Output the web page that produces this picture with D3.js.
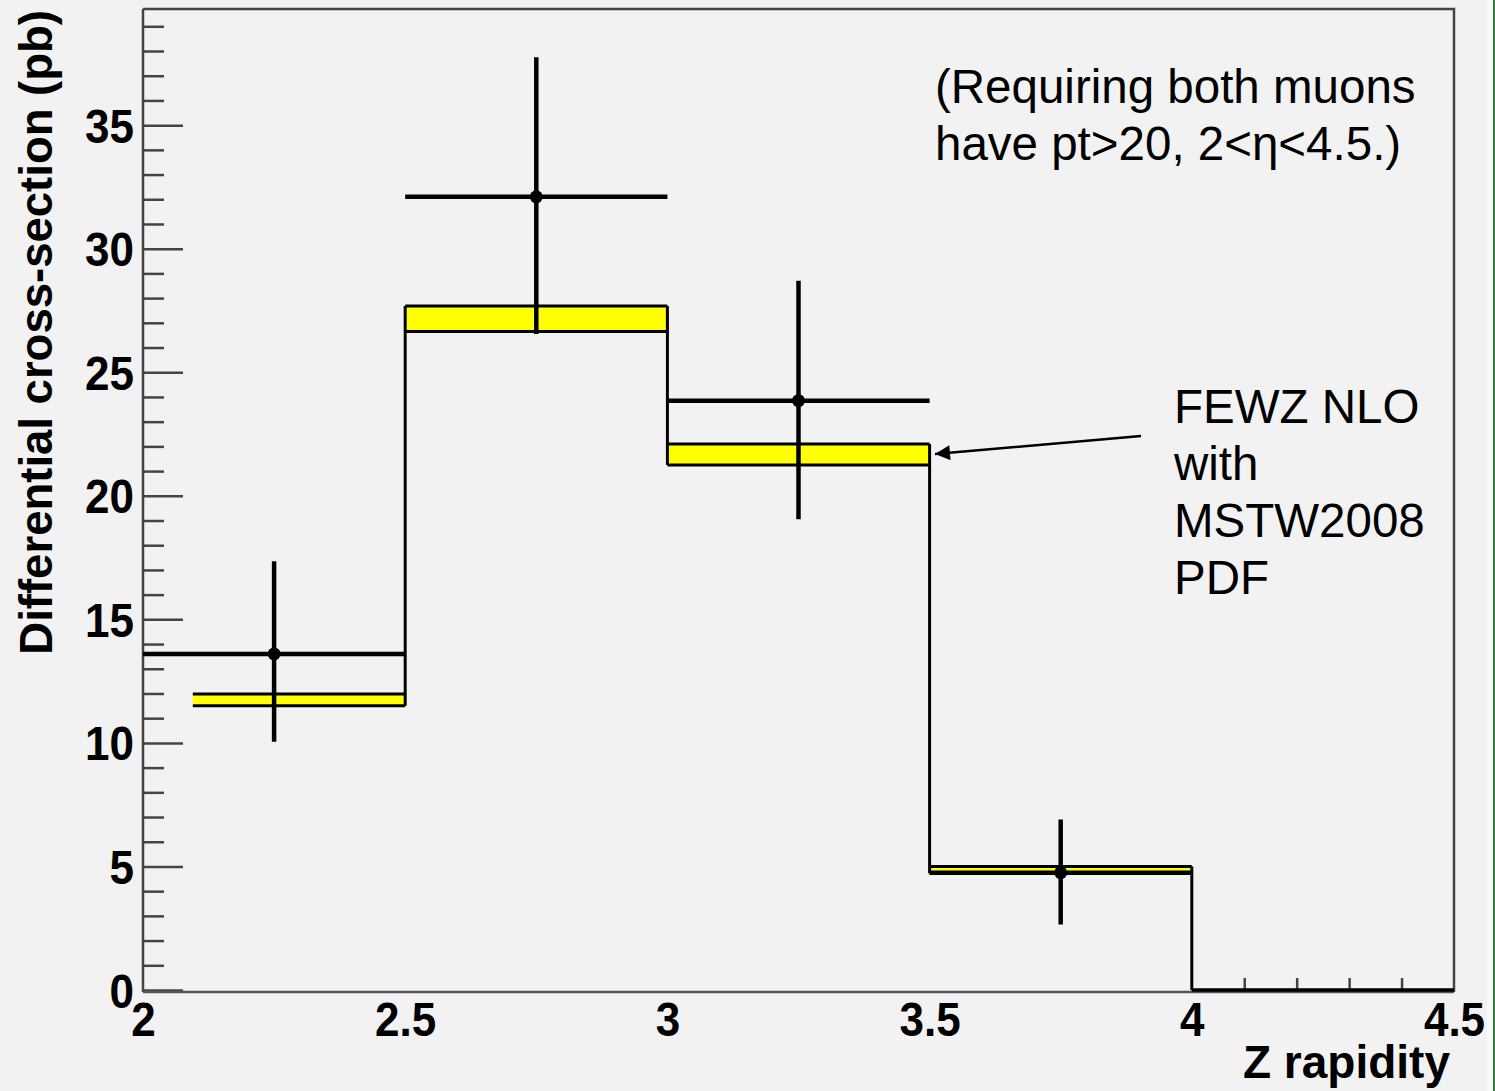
<!DOCTYPE html>
<html>
<head>
<meta charset="utf-8">
<script src="https://cdn.jsdelivr.net/npm/d3@7"></script>
<style>
  body { margin: 0; background: #f2f2f2; }
  svg { display: block; }
  .tick text {
    font-family: "Liberation Sans", Arial, sans-serif; font-weight: bold; font-size: 44px; fill: #000;
    transform-box: fill-box; transform-origin: center; transform: scaleY(1.08);
  }
</style>
</head>
<body>
<svg id="chart" width="1495" height="1091"></svg>
<script>
// chart size and plot frame (pixels)
var width = 1495;
var height = 1091;
var frame = {left: 143, right: 1454, top: 9, bottom: 990};

// measured points (bin centres, values, errors)
var dataLo = [2.0, 2.5, 3.0, 3.5];
var dataHi = [2.5, 3.0, 3.5, 4.0];
var dataX = [2.25, 2.75, 3.25, 3.75];
var dataY = [13.6, 32.1, 23.85, 4.75];
var dataErrUp = [17.35, 37.75, 28.7, 6.9];
var dataErrDown = [10.05, 26.55, 19.05, 2.65];

// FEWZ NLO prediction band
var theoryEdges = [2.095, 2.5, 3.0, 3.5, 4.0, 4.5];
var theoryLow = [11.5, 26.65, 21.25, 4.72, 0];
var theoryHigh = [11.98, 27.68, 22.1, 5.0, 0];

// tick labels
var xTicks = [2, 2.5, 3, 3.5, 4, 4.5];
var xMinorTicks = [4.1, 4.2, 4.3, 4.4];
var yTicks = [0, 5, 10, 15, 20, 25, 30, 35];
var yMinorTicks = d3.range(0, 40, 1).filter(function(v) { return v % 5 !== 0; });

var svg = d3.select("#chart");

var x = d3.scaleLinear().domain([2, 4.5]).range([frame.left, frame.right]);
var y = d3.scaleLinear().domain([0, 39.7]).range([frame.bottom, frame.top]);

// white strip + green edge on the far right
svg.append("rect").attr("x", 1487).attr("y", 0).attr("width", 6).attr("height", height).attr("fill", "#fafafa");
svg.append("rect").attr("x", 1493).attr("y", 0).attr("width", 2).attr("height", height).attr("fill", "#2e7d32");

// frame: top and right sides
svg.append("path")
    .attr("d", "M" + frame.left + "," + frame.top + "H" + frame.right + "V" + (frame.bottom + 2))
    .attr("fill", "none")
    .attr("stroke", "#444")
    .attr("stroke-width", 2.5);

// y axis: major ticks with labels, then minor ticks
var yAxis = d3.axisLeft(y).tickValues(yTicks).tickSize(-40).tickPadding(9).tickFormat(d3.format("d"));
var gy = svg.append("g").attr("transform", "translate(" + frame.left + ",0)").call(yAxis);
gy.select(".domain").remove();
gy.selectAll(".tick line").attr("stroke", "#444").attr("stroke-width", 2.5);
gy.selectAll(".tick text").attr("dy", "0.36em");

var gy2 = svg.append("g").attr("transform", "translate(" + frame.left + ",0)")
    .call(d3.axisLeft(y).tickValues(yMinorTicks).tickSize(-21).tickFormat(""));
gy2.select(".domain").remove();
gy2.selectAll(".tick line").attr("stroke", "#444").attr("stroke-width", 2.5);

svg.append("line")
    .attr("x1", frame.left).attr("x2", frame.left)
    .attr("y1", frame.top).attr("y2", frame.bottom + 2)
    .attr("stroke", "#444").attr("stroke-width", 2.5);

// x axis
var xAxis = d3.axisBottom(x).tickValues(xTicks).tickSize(0).tickPadding(12).tickFormat(function(d) { return d; });
var gx = svg.append("g").attr("transform", "translate(0," + (frame.bottom + 2) + ")").call(xAxis);
gx.select(".domain").remove();

svg.append("line")
    .attr("x1", frame.left).attr("x2", frame.right)
    .attr("y1", frame.bottom + 2).attr("y2", frame.bottom + 2)
    .attr("stroke", "#555").attr("stroke-width", 2.5);

var gx2 = svg.append("g").attr("transform", "translate(0," + frame.bottom + ")")
    .call(d3.axisBottom(x).tickValues(xMinorTicks).tickSize(-12).tickFormat(""));
gx2.select(".domain").remove();
gx2.selectAll(".tick line").attr("stroke", "#444").attr("stroke-width", 2.5);

// axis titles
svg.append("text")
    .attr("x", frame.right - 4)
    .attr("y", 1078)
    .attr("text-anchor", "end")
    .style("font-family", "Liberation Sans, Arial, sans-serif")
    .style("font-weight", "bold")
    .style("font-size", "46px")
    .text("Z rapidity");

svg.append("text")
    .attr("transform", "translate(52,10) rotate(-90)")
    .attr("text-anchor", "end")
    .style("font-family", "Liberation Sans, Arial, sans-serif")
    .style("font-weight", "bold")
    .style("font-size", "45.5px")
    .text("Differential cross-section (pb)");

// prediction band boxes
var bins = theoryLow.map(function(lo, i) {
    return {x0: theoryEdges[i], x1: theoryEdges[i + 1], lo: lo, hi: theoryHigh[i]};
});

svg.append("g").selectAll("rect")
    .data(bins.filter(function(d) { return d.hi > d.lo; }))
    .enter().append("rect")
    .attr("x", function(d) { return x(d.x0); })
    .attr("width", function(d) { return x(d.x1) - x(d.x0); })
    .attr("y", function(d) { return y(d.hi); })
    .attr("height", function(d) { return y(d.lo) - y(d.hi); })
    .attr("fill", "#ffff00");

// band outlines (top and bottom edges)
var edges = svg.append("g").attr("stroke", "#000").attr("stroke-width", 3);
bins.forEach(function(d) {
    [d.lo, d.hi].forEach(function(v) {
        edges.append("line")
            .attr("x1", x(d.x0)).attr("x2", x(d.x1))
            .attr("y1", y(v)).attr("y2", y(v));
    });
});

// step verticals between neighbouring bins
for (var i = 0; i < bins.length - 1; i++) {
    var a = bins[i], b = bins[i + 1];
    edges.append("line")
        .attr("x1", x(a.x1)).attr("x2", x(a.x1))
        .attr("y1", y(Math.max(a.hi, b.hi)))
        .attr("y2", y(Math.min(a.lo, b.lo)));
}

// data points with error bars
var pts = svg.append("g").attr("stroke", "#000").attr("stroke-width", 4.5);
dataX.forEach(function(cx, i) {
    pts.append("line")
        .attr("x1", x(dataLo[i])).attr("x2", x(dataHi[i]))
        .attr("y1", y(dataY[i])).attr("y2", y(dataY[i]));
    pts.append("line")
        .attr("x1", x(cx)).attr("x2", x(cx))
        .attr("y1", y(dataErrUp[i])).attr("y2", y(dataErrDown[i]));
    pts.append("circle")
        .attr("cx", x(cx)).attr("cy", y(dataY[i]))
        .attr("r", 6.5)
        .attr("fill", "#000")
        .attr("stroke", "none");
});

// annotations
var note = svg.append("text")
    .style("font-family", "Liberation Sans, Arial, sans-serif")
    .style("font-size", "47.5px");
note.append("tspan").attr("x", 935).attr("y", 103).text("(Requiring both muons");
note.append("tspan").attr("x", 935).attr("y", 160).text("have pt>20, 2<\u03b7<4.5.)");

var label = svg.append("text")
    .style("font-family", "Liberation Sans, Arial, sans-serif")
    .style("font-size", "47.5px");
["FEWZ NLO", "with", "MSTW2008", "PDF"].forEach(function(t, i) {
    label.append("tspan").attr("x", 1174).attr("y", 423 + i * 57).text(t);
});

// arrow pointing at the band
svg.append("defs").append("marker")
    .attr("id", "arrow")
    .attr("viewBox", "0 0 10 10")
    .attr("refX", 10).attr("refY", 5)
    .attr("markerWidth", 7).attr("markerHeight", 6)
    .attr("markerUnits", "strokeWidth")
    .attr("orient", "auto")
    .append("path")
    .attr("d", "M0,0L10,5L0,10z")
    .attr("fill", "#000");

svg.append("line")
    .attr("x1", 1141).attr("y1", 436)
    .attr("x2", 935).attr("y2", 454)
    .attr("stroke", "#000")
    .attr("stroke-width", 2.5)
    .attr("marker-end", "url(#arrow)");
</script>
</body>
</html>
